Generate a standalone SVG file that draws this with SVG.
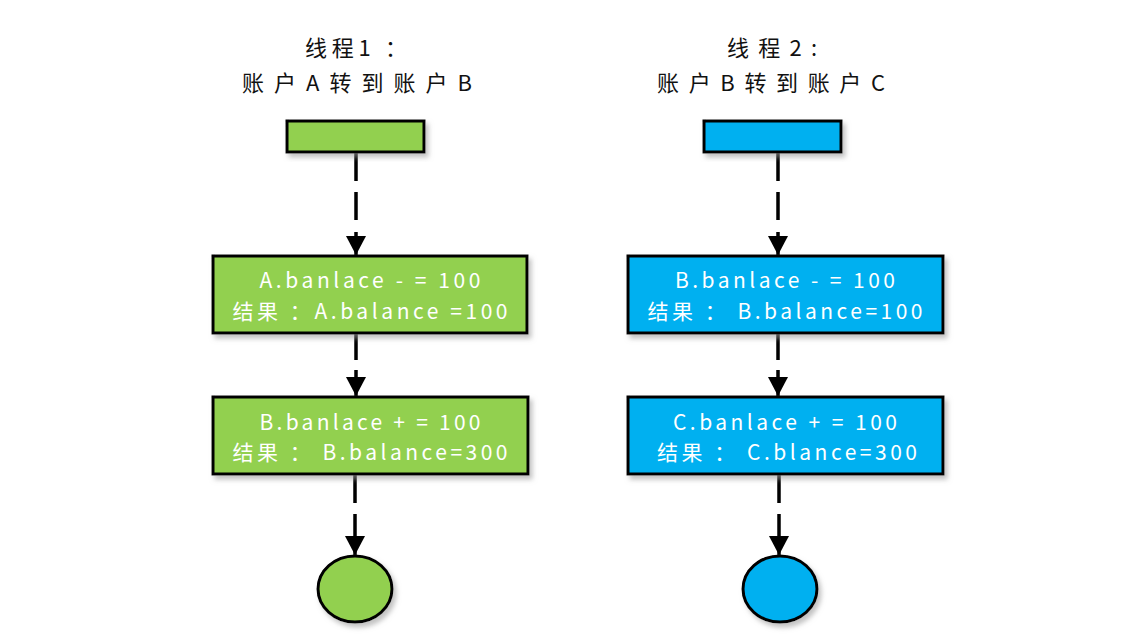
<svg xmlns="http://www.w3.org/2000/svg" width="1142" height="640" viewBox="0 0 1142 640">
<defs>
<filter id="sh" x="-20%" y="-20%" width="140%" height="150%">
<feDropShadow dx="3" dy="4" stdDeviation="2.5" flood-color="#999" flood-opacity="0.6"/>
</filter>
<marker id="ah" markerWidth="19" markerHeight="20" refX="19" refY="10" orient="auto" markerUnits="userSpaceOnUse" viewBox="0 0 19 20">
<path d="M0,0 L19,10 L0,20 Z" fill="#000"/>
</marker>
<style>
.g{fill:#92D050;stroke:#000;stroke-width:3;filter:url(#sh)}
.b{fill:#00B0F0;stroke:#000;stroke-width:3;filter:url(#sh)}
.t{font-family:"Noto Sans CJK SC","Liberation Sans",sans-serif;font-size:21px;fill:#fff;text-anchor:middle}
.h{font-family:"Noto Sans CJK SC","Liberation Sans",sans-serif;font-size:22px;fill:#111;text-anchor:middle}
.c{fill:none;stroke:#000;stroke-width:3.5}
</style>
</defs>
<rect width="1142" height="640" fill="#fff"/>

<g id="title1">
<text class="h" x="356" y="56" textLength="102" lengthAdjust="spacing">线程1 ：</text>
<text class="h" x="357" y="91" textLength="230" lengthAdjust="spacing">账户A转到账户B</text>
</g>
<g id="title2">
<text class="h" x="772" y="56" textLength="90" lengthAdjust="spacing">线程2:</text>
<text class="h" x="771" y="91" textLength="228" lengthAdjust="spacing">账户B转到账户C</text>
</g>

<g id="connectors">
<path class="c" d="M356,152 V181 M356,192 V220 M356,232 V255" marker-end="url(#ah)"/>
<path class="c" d="M356,333 V360 M356,370 V396" marker-end="url(#ah)"/>
<path class="c" d="M355,474 V503 M355,514 V555" marker-end="url(#ah)"/>
<path class="c" d="M778,152 V181 M778,192 V220 M778,232 V255" marker-end="url(#ah)"/>
<path class="c" d="M778,333 V360 M778,370 V396" marker-end="url(#ah)"/>
<path class="c" d="M779,474 V503 M779,514 V555" marker-end="url(#ah)"/>
</g>

<g id="start1"><rect class="g" x="287" y="121" width="137" height="31"/></g>
<g id="start2"><rect class="b" x="704" y="121" width="137" height="31"/></g>

<g id="a1">
<rect class="g" x="213" y="256" width="314" height="77"/>
<text class="t" x="370" y="288" textLength="221" lengthAdjust="spacing">A.banlace - = 100</text>
<text class="t" x="370" y="319" textLength="275" lengthAdjust="spacing">结果 ：A.balance =100</text>
</g>
<g id="a2">
<rect class="g" x="213" y="397" width="315" height="77"/>
<text class="t" x="370" y="430" textLength="221" lengthAdjust="spacing">B.banlace + = 100</text>
<text class="t" x="370" y="460" textLength="275" lengthAdjust="spacing">结果 ： B.balance=300</text>
</g>
<g id="b1">
<rect class="b" x="628" y="256" width="315" height="77"/>
<text class="t" x="785" y="288" textLength="220" lengthAdjust="spacing">B.banlace - = 100</text>
<text class="t" x="785" y="319" textLength="275" lengthAdjust="spacing">结果 ： B.balance=100</text>
</g>
<g id="b2">
<rect class="b" x="628" y="397" width="315" height="77"/>
<text class="t" x="785" y="430" textLength="224" lengthAdjust="spacing">C.banlace + = 100</text>
<text class="t" x="787" y="460" textLength="260" lengthAdjust="spacing">结果 ： C.blance=300</text>
</g>

<g id="end1"><ellipse class="g" cx="355" cy="589" rx="37" ry="33"/></g>
<g id="end2"><ellipse class="b" cx="780" cy="589" rx="37" ry="33"/></g>
</svg>
